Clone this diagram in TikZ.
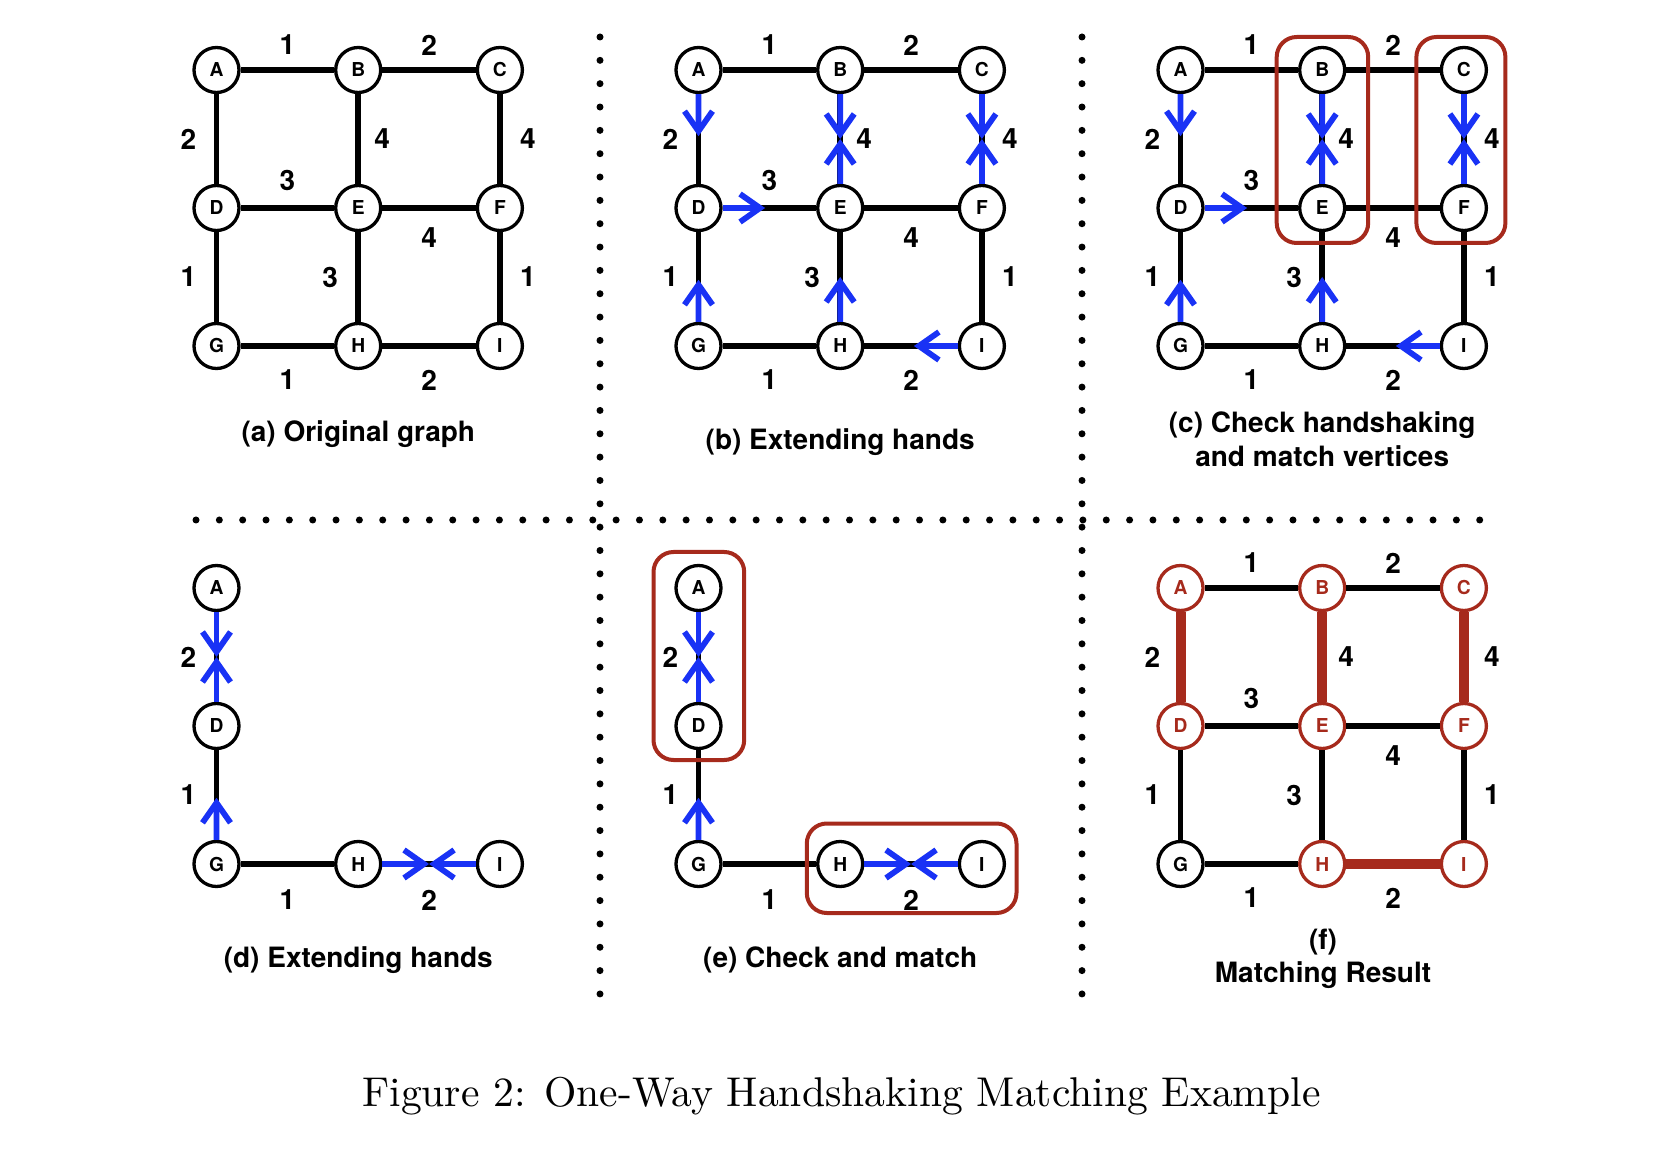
\documentclass[tikz,border=0pt]{standalone}
\usepackage{fontspec}
\newfontfamily\hv{TeX Gyre Heros}
\usetikzlibrary{arrows.meta,calc}
\definecolor{mred}{RGB}{166,42,28}
\definecolor{mblue}{RGB}{25,50,245}
\tikzset{
  vtx/.style={circle, draw=black, line width=1.65pt, minimum size=22.5pt, inner sep=0pt, fill=white,
    font=\hv\bfseries\fontsize{9.6}{10}\selectfont},
  rvtx/.style={vtx, draw=mred, text=mred},
  gedge/.style={line width=2.9pt, black},
  redge/.style={line width=5pt, mred},
  hand/.style={line width=2.9pt, mblue, -{Straight Barb[length=10pt,width=14pt]}},
  wt/.style={font=\hv\bfseries\fontsize{14}{16}\selectfont, inner sep=0pt, text=black},
  captxt/.style={font=\hv\bfseries\fontsize{14}{16}\selectfont, inner sep=0pt, anchor=base},
  grp/.style={draw=mred, line width=2pt, rounded corners=10pt},
  dotline/.style={line width=3.5pt, line cap=round, dash pattern=on 0pt off 11.67pt}
}
\newcommand\gridnodes[4]{%
  \foreach \n/\i/\j in {#4}
    \node[vtx] (#1\n) at ({#2+141.7*\i},{#3+138*\j}) {\n};}
\newcommand\gridedges[1]{%
  \draw[gedge] (#1A) -- node[wt,yshift=12.5pt]{1} (#1B);
  \draw[gedge] (#1B) -- node[wt,yshift=12.5pt]{2} (#1C);
  \draw[gedge] (#1A) -- node[wt,xshift=-14pt]{2} (#1D);
  \draw[gedge] (#1B) -- node[wt,xshift=12pt]{4} (#1E);
  \draw[gedge] (#1C) -- node[wt,xshift=14pt]{4} (#1F);
  \draw[gedge] (#1D) -- node[wt,yshift=14pt]{3} (#1E);
  \draw[gedge] (#1E) -- node[wt,yshift=-15pt]{4} (#1F);
  \draw[gedge] (#1D) -- node[wt,xshift=-14pt]{1} (#1G);
  \draw[gedge] (#1E) -- node[wt,xshift=-14pt]{3} (#1H);
  \draw[gedge] (#1F) -- node[wt,xshift=14pt]{1} (#1I);
  \draw[gedge] (#1G) -- node[wt,yshift=-17pt]{1} (#1H);
  \draw[gedge] (#1H) -- node[wt,yshift=-17pt]{2} (#1I);}
\newcommand\handsgrid[1]{%
  \draw[hand] (#1A) -- ($(#1A)!0.48!(#1D)$);
  \draw[hand] (#1B) -- ($(#1B)!0.5!(#1E)$);
  \draw[hand] (#1E) -- ($(#1E)!0.5!(#1B)$);
  \draw[hand] (#1C) -- ($(#1C)!0.5!(#1F)$);
  \draw[hand] (#1F) -- ($(#1F)!0.5!(#1C)$);
  \draw[hand] (#1D) -- ($(#1D)!0.47!(#1E)$);
  \draw[hand] (#1G) -- ($(#1G)!0.48!(#1D)$);
  \draw[hand] (#1H) -- ($(#1H)!0.5!(#1E)$);
  \draw[hand] (#1I) -- ($(#1I)!0.48!(#1H)$);}
\newcommand\lpanel[1]{%
  \draw[gedge] (#1A) -- node[wt,xshift=-14pt]{2} (#1D);
  \draw[gedge] (#1D) -- node[wt,xshift=-14pt]{1} (#1G);
  \draw[gedge] (#1G) -- node[wt,yshift=-18pt]{1} (#1H);
  \draw[gedge] (#1H) -- node[wt,yshift=-18pt]{2} (#1I);
  \draw[hand] (#1A) -- ($(#1A)!0.5!(#1D)$);
  \draw[hand] (#1D) -- ($(#1D)!0.5!(#1A)$);
  \draw[hand] (#1G) -- ($(#1G)!0.48!(#1D)$);
  \draw[hand] (#1H) -- ($(#1H)!0.5!(#1I)$);
  \draw[hand] (#1I) -- ($(#1I)!0.5!(#1H)$);}
\begin{document}
\begin{tikzpicture}[x=0.5pt,y=-0.5pt]
\useasboundingbox (0,0) rectangle (1672,1160);
% separators
\draw[dotline] (600,37) -- (600,997);
\draw[dotline] (1082,37) -- (1082,997);
\draw[dotline] (196,520) -- (1483,520);
% (a)
\gridnodes{a}{216.5}{70}{A/0/0,B/1/0,C/2/0,D/0/1,E/1/1,F/2/1,G/0/2,H/1/2,I/2/2}
\gridedges{a}
\node[captxt] (capa) at (358.3,441.5) {(a) Original graph};
% (b)
\gridnodes{b}{698.5}{70}{A/0/0,B/1/0,C/2/0,D/0/1,E/1/1,F/2/1,G/0/2,H/1/2,I/2/2}
\gridedges{b}
\handsgrid{b}
\node[captxt] (capb) at (840.2,450) {(b) Extending hands};
% (c)
\gridnodes{c}{1180.5}{70}{A/0/0,B/1/0,C/2/0,D/0/1,E/1/1,F/2/1,G/0/2,H/1/2,I/2/2}
\gridedges{c}
\handsgrid{c}
\draw[grp] ($(cB)+(-45.5,-33)$) rectangle ($(cE)+(46,35)$);
\draw[grp] ($(cC)+(-47.5,-33)$) rectangle ($(cF)+(41.5,35)$);
\node[captxt] (capc1) at (1322.2,432.5) {(c) Check handshaking};
\node[captxt] (capc2) at (1322.2,467) {and match vertices};
% (d)
\gridnodes{d}{216.5}{588}{A/0/0,D/0/1,G/0/2,H/1/2,I/2/2}
\lpanel{d}
\node[captxt] (capd) at (358.3,967.4) {(d) Extending hands};
% (e)
\gridnodes{e}{698.5}{588}{A/0/0,D/0/1,G/0/2,H/1/2,I/2/2}
\lpanel{e}
\draw[grp] ($(eA)+(-45,-36)$) rectangle ($(eD)+(45.7,34)$);
\draw[grp] ($(eH)+(-33.4,-40.5)$) rectangle ($(eI)+(34.6,49)$);
\node[captxt] (cape) at (840.2,967.4) {(e) Check and match};
% (f)
\foreach \n/\i/\j in {A/0/0,B/1/0,C/2/0,D/0/1,E/1/1,F/2/1,H/1/2,I/2/2}
  \node[rvtx] (f\n) at ({1180.5+141.7*\i},{588+138*\j}) {\n};
\node[vtx] (fG) at (1180.5,864) {G};
\draw[gedge] (fA) -- node[wt,yshift=12.5pt]{1} (fB);
\draw[gedge] (fB) -- node[wt,yshift=12.5pt]{2} (fC);
\draw[redge] (fA) -- node[wt,xshift=-14pt]{2} (fD);
\draw[redge] (fB) -- node[wt,xshift=12pt]{4} (fE);
\draw[redge] (fC) -- node[wt,xshift=14pt]{4} (fF);
\draw[gedge] (fD) -- node[wt,yshift=14pt]{3} (fE);
\draw[gedge] (fE) -- node[wt,yshift=-15pt]{4} (fF);
\draw[gedge] (fD) -- node[wt,xshift=-14pt]{1} (fG);
\draw[gedge] (fE) -- node[wt,xshift=-14pt]{3} (fH);
\draw[gedge] (fF) -- node[wt,xshift=14pt]{1} (fI);
\draw[gedge] (fG) -- node[wt,yshift=-17pt]{1} (fH);
\draw[redge] (fH) -- node[wt,yshift=-17pt]{2} (fI);
\node[captxt] (capf1) at (1323,949.2) {(f)};
\node[captxt] (capf2) at (1323,982.5) {Matching Result};
% figure caption
\node[anchor=base, inner sep=0pt, scale=2.08, font=\fontsize{10}{12}\selectfont] (figcap) at (841.5,1106)
  {Figure 2: One-Way Handshaking Matching Example};
\end{tikzpicture}
\end{document}
